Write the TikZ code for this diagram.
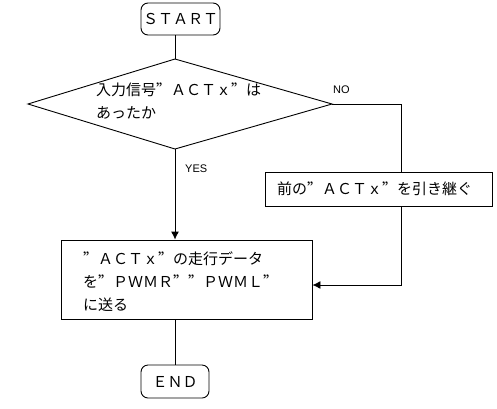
\documentclass[tikz,border=0pt]{standalone}
\usepackage{fontspec}
\setmainfont[RawFeature=+fwid]{Noto Sans CJK JP}
\newfontfamily\lblfont{Liberation Sans}
\usetikzlibrary{arrows.meta}
\tikzset{
  ln/.style={line width=0.9pt, black},
  arr/.style={ln, -{Latex[length=8pt,width=8pt]}},
  term/.style={draw, line width=0.9pt, rounded corners=7pt, inner sep=0pt},
  procbox/.style={draw, line width=0.9pt, inner sep=0pt},
  jp/.style={inner sep=0pt, font=\fontsize{15}{23}\selectfont, align=left},
  lbl/.style={inner sep=0pt, font=\lblfont\fontsize{11}{12}\selectfont}
}
\begin{document}
\begin{tikzpicture}[x=1pt,y=-1pt]
\useasboundingbox (0,0) rectangle (497,408);
% terminals
\node[term, minimum width=79pt, minimum height=32pt, jp] (start) at (180.5,19) {ＳＴＡＲＴ};
\node[term, minimum width=68pt, minimum height=33pt, jp] (end) at (175,381.5) {ＥＮＤ};
% decision diamond
\coordinate (dtop) at (175,59);
\coordinate (dright) at (332,104);
\coordinate (dbot) at (175,149);
\coordinate (dleft) at (28,104);
\draw[ln] (dtop) -- (dright) -- (dbot) -- (dleft) -- cycle;
\node[jp, anchor=west] (dtext) at (96,101.5) {入力信号”ＡＣＴｘ”は\\あったか};
% process boxes
\node[procbox, minimum width=227pt, minimum height=34pt] (keep) at (378.5,189) {};
\node[jp, anchor=west] (keeptext) at (277,189) {前の”ＡＣＴｘ”を引き継ぐ};
\node[procbox, minimum width=251pt, minimum height=79pt] (proc) at (186.5,279.5) {};
\node[jp, anchor=west] (proctext) at (83,282) {”ＡＣＴｘ”の走行データ\\を”ＰＷＭＲ””ＰＷＭＬ”\\に送る};
% labels
\node[lbl, anchor=west] (no) at (333,90) {NO};
\node[lbl, anchor=west] (yes) at (185,169) {YES};
% connectors
\coordinate (nocorner) at (401,104);
\coordinate (merge) at (401,285);
\draw[ln] (dtop |- start.south) -- (dtop);
\draw[ln] (dright) -- (nocorner) -- (nocorner |- keep.north);
\draw[arr] (dbot) -- (dbot |- proc.north);
\draw[arr] (nocorner |- keep.south) -- (merge) -- (merge -| proc.east);
\draw[ln] (proc.south -| dtop) -- (end.north);
\end{tikzpicture}
\end{document}
